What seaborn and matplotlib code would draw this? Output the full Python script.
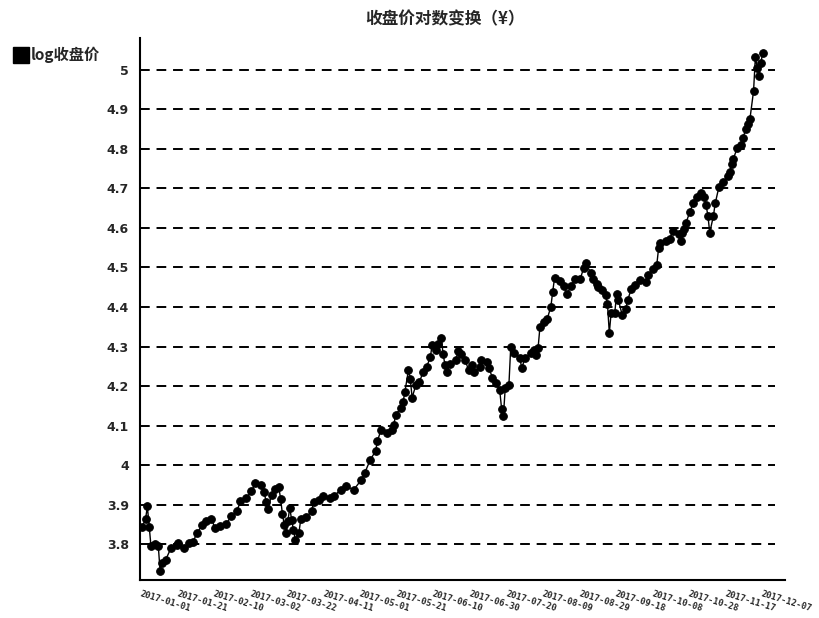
import numpy as np
import pandas as pd
import matplotlib
matplotlib.use("Agg")
import matplotlib.pyplot as plt
from matplotlib.lines import Line2D
import seaborn as sns

# Days since 2017-01-01 for each trading observation
day_offsets = [
    0, 2, 3, 4, 5, 7, 9, 10, 11, 13, 16, 19, 20, 23, 26, 28, 30, 33, 35, 38,
    40, 43, 46, 49, 52, 54, 57, 60, 62, 65, 67, 68, 69, 71, 73, 75, 76, 77, 78, 79,
    80, 81, 82, 83, 84, 86, 87, 90, 93, 94, 97, 99, 103, 105, 109, 112, 116, 120, 122, 125,
    128, 129, 131, 134, 137, 138, 139, 142, 143, 144, 146, 147, 148, 150, 152, 154, 156, 158, 159, 161,
    162, 164, 165, 166, 167, 169, 172, 173, 175, 177, 179, 181, 182, 185, 186, 189, 190, 192, 194, 196,
    197, 198, 199, 201, 202, 204, 207, 208, 210, 213, 215, 216, 217, 218, 220, 222, 224, 225, 226, 229,
    231, 233, 235, 237, 240, 242, 243, 246, 247, 249, 250, 252, 254, 255, 256, 257, 259, 260, 261, 263,
    265, 266, 268, 270, 273, 276, 277, 280, 282, 283, 284, 287, 289, 291, 294, 295, 296, 297, 298, 300,
    302, 304, 306, 308, 309, 310, 311, 313, 314, 316, 318, 321, 322, 323, 324, 326, 328, 329, 331, 332,
    333, 335, 336, 337, 338, 339, 340,
]

# Natural log of the closing price
log_close = [
    3.843, 3.863, 3.896, 3.845, 3.795, 3.800, 3.795, 3.732, 3.754, 3.761, 3.791, 3.798, 3.803, 3.790, 3.803, 3.805, 3.828, 3.848, 3.860, 3.865,
    3.842, 3.846, 3.851, 3.871, 3.884, 3.909, 3.916, 3.934, 3.954, 3.951, 3.933, 3.907, 3.889, 3.924, 3.940, 3.945, 3.914, 3.876, 3.849, 3.830,
    3.860, 3.893, 3.862, 3.837, 3.812, 3.829, 3.863, 3.868, 3.885, 3.906, 3.913, 3.923, 3.917, 3.922, 3.938, 3.947, 3.938, 3.962, 3.980, 4.013,
    4.036, 4.061, 4.090, 4.082, 4.089, 4.103, 4.128, 4.146, 4.159, 4.184, 4.241, 4.218, 4.171, 4.202, 4.210, 4.236, 4.249, 4.274, 4.305, 4.292,
    4.306, 4.321, 4.280, 4.254, 4.236, 4.257, 4.266, 4.288, 4.281, 4.266, 4.240, 4.253, 4.235, 4.248, 4.266, 4.260, 4.247, 4.221, 4.208, 4.189,
    4.143, 4.125, 4.195, 4.202, 4.298, 4.285, 4.272, 4.246, 4.272, 4.284, 4.292, 4.279, 4.297, 4.349, 4.362, 4.370, 4.401, 4.439, 4.473, 4.465,
    4.452, 4.434, 4.452, 4.470, 4.470, 4.499, 4.512, 4.485, 4.472, 4.459, 4.451, 4.444, 4.430, 4.407, 4.334, 4.386, 4.386, 4.433, 4.417, 4.381,
    4.394, 4.417, 4.445, 4.456, 4.468, 4.463, 4.481, 4.497, 4.507, 4.549, 4.562, 4.567, 4.572, 4.593, 4.585, 4.566, 4.587, 4.598, 4.613, 4.639,
    4.663, 4.678, 4.689, 4.678, 4.657, 4.631, 4.588, 4.630, 4.662, 4.703, 4.715, 4.730, 4.741, 4.762, 4.775, 4.802, 4.810, 4.828, 4.849, 4.862,
    4.875, 4.946, 5.033, 5.004, 4.985, 5.017, 5.043,
]
assert len(day_offsets) == len(log_close)

tick_dates = [
    "2017-01-01", "2017-01-21", "2017-02-10", "2017-03-02", "2017-03-22", "2017-04-11",
    "2017-05-01", "2017-05-21", "2017-06-10", "2017-06-30", "2017-07-20", "2017-08-09",
    "2017-08-29", "2017-09-18", "2017-10-08", "2017-10-28", "2017-11-17", "2017-12-07",
]
y_ticks = [3.8, 3.9, 4.0, 4.1, 4.2, 4.3, 4.4, 4.5, 4.6, 4.7, 4.8, 4.9, 5.0]
y_tick_labels = ["3.8", "3.9", "4", "4.1", "4.2", "4.3", "4.4", "4.5", "4.6", "4.7", "4.8", "4.9", "5"]

start = pd.Timestamp("2017-01-01")
df = pd.DataFrame({
    "date": start + pd.to_timedelta(day_offsets, unit="D"),
    "log收盘价": log_close,
})

sns.set_style("white")
plt.rcParams["font.family"] = ["Noto Sans CJK SC", "DejaVu Sans"]
plt.rcParams["axes.unicode_minus"] = False

fig = plt.figure(figsize=(8.19, 6.18), dpi=100)
ax = fig.add_axes([0.171, 0.0615, 0.787, 0.877])

# dashed horizontal reference lines at each tick level
for yv in y_ticks:
    ax.axhline(yv, xmax=0.985, color="black", lw=1.4, ls=(0, (5, 3.5)), zorder=1)

sns.lineplot(data=df, x="date", y="log收盘价", ax=ax, color="black", lw=1.0,
             marker="o", markersize=5.5, markeredgecolor="black",
             markerfacecolor="black", legend=False, zorder=3)

ax.set_xlim(start - pd.Timedelta(days=1), start + pd.Timedelta(days=352))
ax.set_ylim(3.71, 5.08)

ax.set_yticks(y_ticks)
ax.set_yticklabels(y_tick_labels, fontsize=9, fontweight="bold", family="DejaVu Sans")
ax.tick_params(axis="y", length=5, width=1.3, color="black", pad=3)

tick_pos = pd.to_datetime(tick_dates)
ax.set_xticks(tick_pos)
ax.set_xticklabels(tick_dates, rotation=-17, ha="left", va="top",
                   rotation_mode="anchor", fontsize=6.3, fontweight="bold",
                   family="DejaVu Sans Mono")
ax.tick_params(axis="x", length=0, pad=7)

ax.set_xlabel("")
ax.set_ylabel("")
for side in ("top", "right"):
    ax.spines[side].set_visible(False)
for side in ("left", "bottom"):
    ax.spines[side].set_color("black")
    ax.spines[side].set_linewidth(1.5)

fig.text(0.543, 0.968, "收盘价对数变换（¥）", ha="center", va="center",
         fontsize=12, fontweight="bold")

handle = Line2D([], [], marker="s", color="black", ls="none", markersize=11)
fig.legend(handles=[handle], labels=["log收盘价"], loc="center left",
           bbox_to_anchor=(0.0, 0.911), frameon=False, handletextpad=0.1,
           handlelength=1.0, prop={"size": 11, "weight": "bold"})

fig.savefig("out.png", dpi=100)
